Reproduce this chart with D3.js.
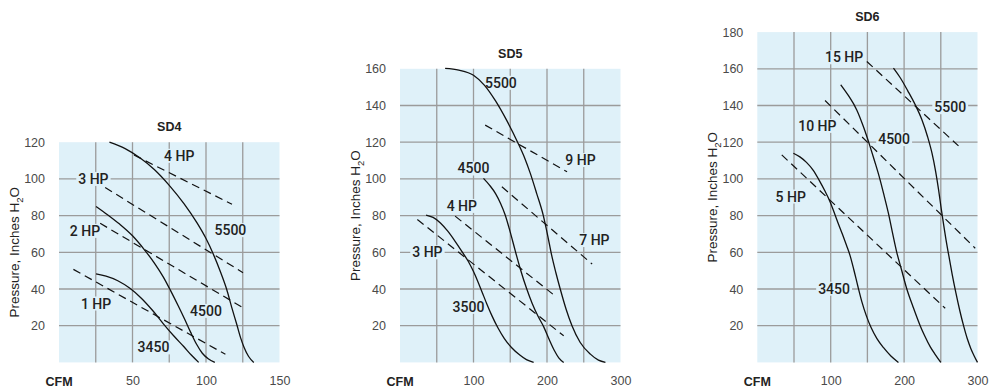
<!DOCTYPE html>
<html>
<head>
<meta charset="utf-8">
<script src="https://cdn.jsdelivr.net/npm/d3@7"></script>
<style>
  body { margin: 0; background: #fff; }
  svg { display: block; }
  .tick text { font-family: "Liberation Sans", Arial, sans-serif; font-size: 12.5px; fill: #4a4a4a; }
  .title, .cfm { font-family: "Liberation Sans", Arial, sans-serif; font-weight: bold; font-size: 12.5px; fill: #222; }
  .ylabel { font-family: "Liberation Sans", Arial, sans-serif; font-size: 13.5px; fill: #222; }
  .note { font-family: Roboto, "Liberation Sans", sans-serif; font-weight: 500; font-size: 14px; fill: #222; }
</style>
</head>
<body>
<div id="chart-area"></div>
<script>
// ---- data (CFM, pressure in inches H2O) ----
const sd4Ticks = { x: [50, 100, 150], y: [20, 40, 60, 80, 100, 120] };
const sd4Speeds = [
  { label: '5500', pts: [[34.3, 120], [45, 116.5], [55, 111.5], [65, 105], [75, 96.5], [85, 86.5], [93.9, 76], [100, 67.5], [105, 59], [110, 49], [114, 40], [117.5, 30], [121, 20.5], [123.5, 13.5], [126, 8], [129, 3.2], [132.5, 0]] },
  { label: '4500', pts: [[25.2, 85], [33, 80.5], [41, 75.5], [50, 69], [58, 61.5], [65, 54], [71, 46.5], [76, 39], [81, 31], [85.5, 23.5], [89.5, 16.5], [93.5, 10], [97.5, 5], [101.5, 2], [106, 0]] },
  { label: '3450', pts: [[25.2, 48.2], [32, 47], [40, 44.5], [48, 40.5], [56, 35], [64, 28], [71, 21], [78, 14.5], [85, 8.5], [90, 4], [95, 0]] }
];
const sd4Power = [
  { label: '4 HP', pts: [[51, 113], [117.7, 86.2]] },
  { label: '3 HP', pts: [[31.4, 95.3], [125.2, 48.9]] },
  { label: '2 HP', pts: [[28, 75.8], [125.2, 29.8]] },
  { label: '1 HP', pts: [[9.8, 50.7], [113.2, 4.4]] }
];
const sd4Notes = [
  ['4 HP', 81.8, 112.6], ['3 HP', 23.4, 100], ['2 HP', 17.7, 71.7], ['1 HP', 25.2, 32.1],
  ['5500', 116.6, 72.1], ['4500', 100, 28.1], ['3450', 64.3, 8.2]
];

const sd5Ticks = { x: [100, 200, 300], y: [20, 40, 60, 80, 100, 120, 140, 160] };
const sd5Speeds = [
  { label: '5500', pts: [[61.4, 160.2], [80, 159.3], [100, 156.5], [115, 151], [130, 142.5], [145, 132], [160, 120], [170, 111], [177.3, 103], [186, 92], [195, 80], [201, 69], [206, 59], [212, 49], [218, 40], [226, 29], [234, 20], [245, 11], [259, 4.5], [270, 1.2], [279.5, 0]] },
  { label: '4500', pts: [[113.6, 100.3], [122, 96.5], [130, 92], [137, 86.5], [143, 80.5], [150, 71], [157, 60.5], [164, 50.5], [172, 40.5], [180, 32], [188, 25], [195.4, 19.5], [203, 12.5], [210, 6.5], [216, 2.5], [222.7, 0]] },
  { label: '3500', pts: [[35.5, 80.3], [45, 79], [55, 76], [65, 71.5], [75, 66], [85, 60], [93, 55], [100, 49.5], [106, 44], [112, 38], [118, 32], [125, 25.5], [133, 19], [142, 13], [152, 8], [163, 4], [172, 1.5], [181.8, 0]] }
];
const sd5Power = [
  { label: '9 HP', pts: [[115.9, 129.3], [227.3, 103.9]] },
  { label: '7 HP', pts: [[138.6, 95.7], [261.4, 53.6]] },
  { label: '4 HP', pts: [[75, 79.7], [211.4, 36.1]] },
  { label: '3 HP', pts: [[23.6, 77.9], [222.7, 14.5]] }
];
const sd5Notes = [
  ['5500', 137.3, 152.4], ['9 HP', 245.5, 110.3], ['4500', 100, 105.7], ['4 HP', 84.1, 85.3],
  ['7 HP', 264.5, 66.7], ['3 HP', 37.3, 60], ['3500', 93.2, 30.3]
];

const sd6Ticks = { x: [100, 200, 300], y: [20, 40, 60, 80, 100, 120, 140, 160, 180] };
const sd6Speeds = [
  { label: '5500', pts: [[185.5, 160.4], [195, 155], [205, 148], [215, 140.5], [224, 132.5], [232, 123], [238, 114], [243, 104], [247, 94], [250.5, 84], [253.5, 76], [257, 67], [261, 58], [265.5, 48], [270.5, 38], [276, 28], [281, 20], [286, 13], [291, 7.5], [295.5, 3.5], [300, 0]] },
  { label: '4500', pts: [[113.7, 151.3], [124, 145.5], [135.5, 137.6], [145, 128], [153.7, 117.6], [160, 109.5], [167.3, 99.5], [173, 90.5], [178.6, 81.3], [184, 71], [190, 60], [196.5, 50.5], [203.7, 40], [212, 30.5], [221.9, 20], [228, 14.5], [235.5, 8.6], [242, 4.5], [250, 0]] },
  { label: '3450', pts: [[49.1, 114], [58, 112], [67, 109], [76, 104.8], [84, 99.5], [92, 93.5], [99.1, 87.6], [104, 82.5], [110, 76], [116, 69.8], [121.5, 63.8], [126.4, 58.2], [131.5, 50.5], [137, 41.5], [142.5, 33], [148.5, 25.5], [155, 19], [163, 13], [172, 8], [182, 3.5], [192.3, 0]] }
];
const sd6Power = [
  { label: '15 HP', pts: [[149.2, 164], [274.1, 118]] },
  { label: '10 HP', pts: [[92.3, 142.7], [296.9, 62.2]] },
  { label: '5 HP', pts: [[33.3, 113.1], [256, 29.5]] }
];
const sd6Notes = [
  ['15 HP', 118.2, 166.3], ['5500', 262.8, 139.1], ['10 HP', 81.8, 128.9], ['4500', 186.4, 121.7],
  ['5 HP', 45.5, 90.4], ['3450', 104.6, 40.2]
];

// ---- layout ----
const bg = '#dff1f9';
const unitPx = 36.7 / 20;
const bottom = 362.4;

const panels = [
  { title: 'SD4', left: 59, width: 220.5, xMax: 150, yMax: 120, ticks: sd4Ticks, speeds: sd4Speeds, power: sd4Power, notes: sd4Notes },
  { title: 'SD5', left: 400, width: 220.5, xMax: 300, yMax: 160, ticks: sd5Ticks, speeds: sd5Speeds, power: sd5Power, notes: sd5Notes },
  { title: 'SD6', left: 757.3, width: 220.2, xMax: 300, yMax: 180, ticks: sd6Ticks, speeds: sd6Speeds, power: sd6Power, notes: sd6Notes }
];

const svg = d3.select('#chart-area').append('svg')
  .attr('width', 989)
  .attr('height', 392);

const drawPanel = (p) => {
  const h = p.yMax * unitPx;
  const top = bottom - h;
  const g = svg.append('g').attr('transform', `translate(${p.left},${top})`);

  const x = d3.scaleLinear().domain([0, p.xMax]).range([0, p.width]);
  const y = d3.scaleLinear().domain([0, p.yMax]).range([h, 0]);

  g.append('rect').attr('width', p.width).attr('height', h).attr('fill', bg);

  // grid, interior lines only
  const step = p.xMax / 6;
  const xGrid = d3.range(1, 6).map(i => i * step);
  g.selectAll('.vgrid').data(xGrid).join('line')
    .attr('x1', d => x(d)).attr('x2', d => x(d))
    .attr('y1', 0).attr('y2', h)
    .attr('stroke', '#9b9b9b').attr('stroke-width', 1.3);
  g.selectAll('.hgrid').data(p.ticks.y.filter(d => d < p.yMax)).join('line')
    .attr('x1', 0).attr('x2', p.width)
    .attr('y1', d => y(d)).attr('y2', d => y(d))
    .attr('stroke', '#9b9b9b').attr('stroke-width', 1.3);

  // axes (labels only)
  const yAxis = g.append('g')
    .call(d3.axisLeft(y).tickValues(p.ticks.y).tickSize(0).tickPadding(14));
  yAxis.select('.domain').remove();

  const xAxis = g.append('g')
    .attr('transform', `translate(0,${h})`)
    .call(d3.axisBottom(x).tickValues(p.ticks.x).tickSize(0).tickPadding(14));
  xAxis.select('.domain').remove();

  g.append('text').attr('class', 'cfm')
    .attr('x', 0).attr('y', h + 24)
    .attr('text-anchor', 'middle')
    .text('CFM');

  g.append('text').attr('class', 'title')
    .attr('x', p.width / 2).attr('y', -11)
    .attr('text-anchor', 'middle')
    .text(p.title);

  const yl = g.append('text').attr('class', 'ylabel')
    .attr('transform', `translate(-40,${h / 2}) rotate(-90)`)
    .attr('text-anchor', 'middle');
  yl.append('tspan').text('Pressure, Inches H');
  yl.append('tspan').attr('font-size', '9.5px').attr('dy', 4).text('2');
  yl.append('tspan').attr('dy', -4).text('O');

  // annotations with background patch (hides grid behind)
  const notes = g.selectAll('.noteg').data(p.notes).join('g');
  notes.append('rect').attr('fill', bg);
  notes.append('text').attr('class', 'note')
    .attr('x', d => x(d[1])).attr('y', d => y(d[2]))
    .attr('text-anchor', 'middle')
    .attr('dy', '0.36em')
    .text(d => d[0]);
  notes.each(function () {
    const b = d3.select(this).select('text').node().getBBox();
    d3.select(this).select('rect')
      .attr('x', b.x - 2).attr('y', b.y + 1)
      .attr('width', b.width + 4).attr('height', b.height - 2);
  });

  const line = d3.line().x(d => x(d[0])).y(d => y(d[1]));

  g.selectAll('.hp').data(p.power).join('path')
    .attr('d', d => line(d.pts))
    .attr('fill', 'none')
    .attr('stroke', '#111')
    .attr('stroke-width', 1.2)
    .attr('stroke-dasharray', '8,5');

  const curve = d3.line().x(d => x(d[0])).y(d => y(d[1])).curve(d3.curveMonotoneX);
  g.selectAll('.rpm').data(p.speeds).join('path')
    .attr('d', d => curve(d.pts))
    .attr('fill', 'none')
    .attr('stroke', '#111')
    .attr('stroke-width', 1.3);
};

panels.forEach(drawPanel);
</script>
</body>
</html>
